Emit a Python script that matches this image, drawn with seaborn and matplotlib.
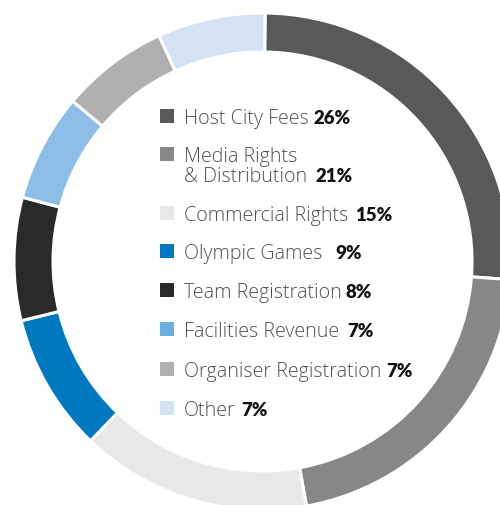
import matplotlib
matplotlib.use("Agg")
import matplotlib.pyplot as plt
import matplotlib.transforms as mtransforms
from matplotlib.patches import Rectangle
import seaborn as sns

# Revenue breakdown
categories = ["Host City Fees", "Media Rights\n& Distribution", "Commercial Rights",
              "Olympic Games", "Team Registration", "Facilities Revenue",
              "Organiser Registration", "Other"]
shares = [26, 21, 15, 9, 8, 7, 7, 7]
pct_labels = ["26%", "21%", "15%", "9%", "8%", "7%", "7%", "7%"]
ring_colors = ["#595959", "#878787", "#e8e8e8", "#0079c1", "#2a2a2a",
               "#8cbde6", "#b0b0b0", "#d3e3f4"]
key_colors = ["#595959", "#878787", "#e8e8e8", "#0079c1", "#2a2a2a",
              "#6aaee0", "#b0b0b0", "#d3e3f4"]

sns.set_theme(style="white")
plt.rcParams["font.family"] = ["Open Sans", "DejaVu Sans"]

W, H = 500, 506
fig = plt.figure(figsize=(W / 100, H / 100), dpi=100)
ax = fig.add_axes([0, 0, 1, 1])

# donut: centre at (262.5, 262.5) px, outer radius 248.5 px, ring 39 px wide
R = 248.5
cx, cy = 262.5, 262.5
ax.pie(shares, colors=ring_colors, startangle=89.4, counterclock=False, radius=1.0,
       wedgeprops=dict(width=39 / R, edgecolor="white", linewidth=2.2))
ax.set_xlim(-cx / R, (W - cx) / R)
ax.set_ylim(-(H - cy) / R, cy / R)
ax.set_aspect("auto")
ax.axis("off")

# pixel coordinates measured from the top-left corner
px = mtransforms.Affine2D().scale(1, -1).translate(0, H).scale(1 / W, 1 / H) + fig.transFigure

# size the key text so the longest label spans about 197 px
renderer = fig.canvas.get_renderer()
probe = ax.text(0, 0, "Organiser Registration", fontsize=10, fontweight="light",
                transform=px)
w10 = probe.get_window_extent(renderer).width
probe.remove()
fs = 10 * 197.0 / w10

baselines = [123.5, 162, 221, 259, 298, 337, 377, 416]
pct_x = [313, 316, 355, 335, 346, 347, 386, 241]
for lab, pct, col, base, xp in zip(categories, pct_labels, key_colors, baselines, pct_x):
    ax.add_patch(Rectangle((160, base - 14), 14, 14, facecolor=col, edgecolor="none",
                           transform=px, clip_on=False))
    lines = lab.split("\n")
    for i, ln in enumerate(lines):
        ax.text(184, base + i * 20, ln, transform=px, fontsize=fs, color="#4f4f4f",
                fontweight="light", ha="left", va="baseline")
    ax.text(xp, base + (len(lines) - 1) * 20, pct, transform=px, fontsize=13.4,
            color="#111111", fontweight="heavy", family=["Lato", "DejaVu Sans"],
            ha="left", va="baseline")

fig.savefig("out.png", dpi=100, facecolor="white")
